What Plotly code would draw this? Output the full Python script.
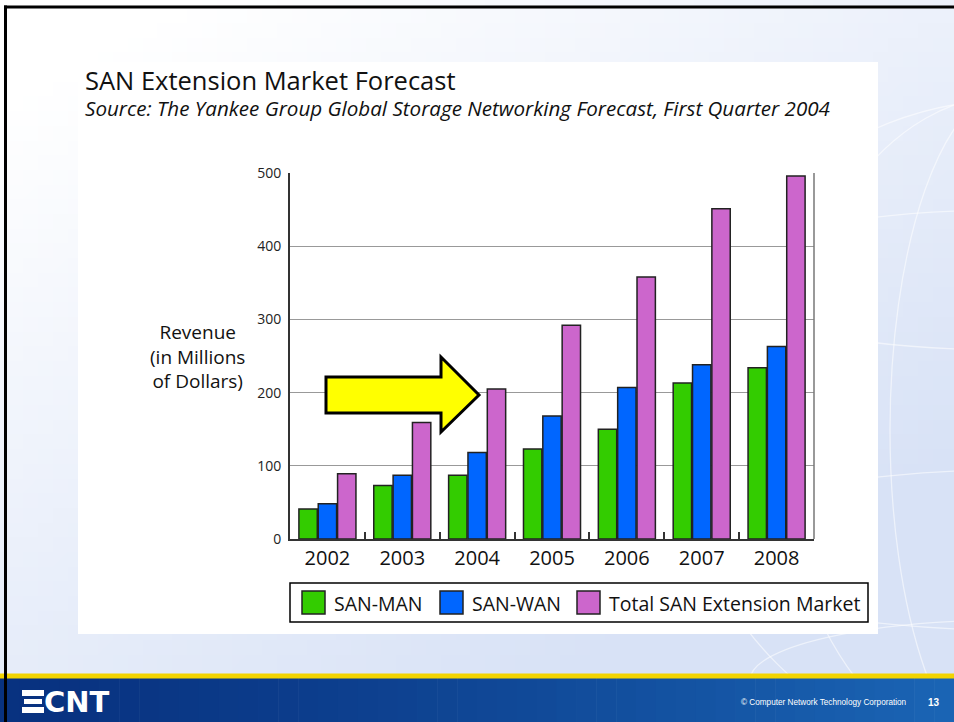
import zlib, struct, base64
import plotly.graph_objects as go

# ---------------- data ----------------
years = ['2002', '2003', '2004', '2005', '2006', '2007', '2008']
san_man = [41, 73, 87, 123, 150, 213, 234]
san_wan = [48, 87, 118, 168, 207, 238, 263]
total_market = [89, 159, 205, 292, 358, 451, 496]
series_names = ['SAN-MAN', 'SAN-WAN', 'Total SAN Extension Market']
series_colors = ['#33cc00', '#0066ff', '#cc66cc']
y_ticks = [0, 100, 200, 300, 400, 500]

title_text = 'SAN Extension Market Forecast'
subtitle_text = 'Source: The Yankee Group Global Storage Networking Forecast, First Quarter 2004'
ylabel_text = 'Revenue<br>(in Millions<br>of Dollars)'
footer_text = '© Computer Network Technology Corporation'
page_no = '13'

# ---------------- geometry helpers ----------------
W, H = 954, 722
PL, PR, PT, PB = 290, 814, 173, 539   # plot area in pixels


def px(x):
    return (x - PL) / (PR - PL)


def py(y):
    return (PB - y) / (PB - PT)


def png_uri(w, h, fn):
    rows = []
    for yy in range(h):
        row = bytearray(b'\x00')
        for xx in range(w):
            row.extend(fn(xx, yy))
        rows.append(bytes(row))
    raw = b''.join(rows)

    def chunk(t, d):
        c = struct.pack('>I', len(d)) + t + d
        return c + struct.pack('>I', zlib.crc32(t + d) & 0xffffffff)
    png = (b'\x89PNG\r\n\x1a\n'
           + chunk(b'IHDR', struct.pack('>IIBBBBB', w, h, 8, 2, 0, 0, 0))
           + chunk(b'IDAT', zlib.compress(raw, 9))
           + chunk(b'IEND', b''))
    return 'data:image/png;base64,' + base64.b64encode(png).decode()


def lerp(c0, c1, t):
    t = max(0.0, min(1.0, t))
    return tuple(int(round(a + (b - a) * t)) for a, b in zip(c0, c1))


BGW, BGH = 64, 46


def bg_fn(x, y):
    u, v = x / (BGW - 1), y / (BGH - 1)
    return lerp((255, 255, 255), (216, 226, 246), 0.6 * u + 0.75 * v - 0.12)


bg_img = png_uri(BGW, BGH, bg_fn)

fig = go.Figure()
for name, vals, col in zip(series_names, [san_man, san_wan, total_market], series_colors):
    fig.add_trace(go.Bar(
        x=years, y=vals, name=name,
        marker=dict(color=col, line=dict(color='#222222', width=1.5)),
        showlegend=False,
    ))

images = [
    dict(source=bg_img, xref='paper', yref='paper', x=px(0), y=py(0),
         sizex=px(W) - px(0), sizey=py(0) - py(676), xanchor='left', yanchor='top',
         sizing='stretch', layer='below'),
]

shapes = []
# globe lines on the background
gl = dict(color='rgba(255,255,255,0.55)', width=1.3)
cx, cy = 1010, 430
for rx, ry in [(330, 330), (230, 335), (120, 340)]:
    shapes.append(dict(type='circle', xref='paper', yref='paper',
                       x0=px(cx - rx), x1=px(cx + rx), y0=py(cy + ry), y1=py(cy - ry),
                       line=gl, layer='below'))
for oy, rx, ry in [(-150, 300, 70), (120, 320, 80), (250, 260, 60)]:
    shapes.append(dict(type='circle', xref='paper', yref='paper',
                       x0=px(cx - rx), x1=px(cx + rx), y0=py(cy + oy + ry), y1=py(cy + oy - ry),
                       line=gl, layer='below'))
# white chart panel
shapes.append(dict(type='rect', xref='paper', yref='paper', x0=px(78), x1=px(878),
                   y0=py(634), y1=py(62), fillcolor='white', line=dict(width=0), layer='below'))
# footer band (gradient strips)
NSTRIP = 48
for i in range(NSTRIP):
    u = i / (NSTRIP - 1)
    c = lerp((8, 50, 128), (26, 100, 180), u ** 1.3)
    x0 = W * i / NSTRIP
    x1 = W * (i + 1) / NSTRIP + 0.6
    shapes.append(dict(type='rect', xref='paper', yref='paper', x0=px(x0), x1=px(x1),
                       y0=py(H), y1=py(678), fillcolor='rgb(%d,%d,%d)' % c,
                       line=dict(width=0), layer='below'))
# footer yellow line
shapes.append(dict(type='rect', xref='paper', yref='paper', x0=px(0), x1=px(W),
                   y0=py(678.5), y1=py(673.5), fillcolor='#f2d400', line=dict(width=0), layer='below'))
# slide border lines
shapes.append(dict(type='line', xref='paper', yref='paper', x0=px(4), x1=px(W),
                   y0=py(7), y1=py(7), line=dict(color='black', width=3), layer='below'))
shapes.append(dict(type='line', xref='paper', yref='paper', x0=px(5.5), x1=px(5.5),
                   y0=py(5.5), y1=py(H), line=dict(color='black', width=3), layer='below'))
# logo stripes
for (y0, y1, x0, x1) in [(690, 696, 22, 44), (699, 704, 24, 42), (707, 713, 22, 44)]:
    shapes.append(dict(type='rect', xref='paper', yref='paper', x0=px(x0), x1=px(x1),
                       y0=py(y1), y1=py(y0), fillcolor='white', line=dict(width=0), layer='above'))
# right frame line of the plot
shapes.append(dict(type='line', xref='paper', yref='paper', x0=1, x1=1, y0=0, y1=1,
                   line=dict(color='#777777', width=1.5), layer='above'))
# legend box and swatches
shapes.append(dict(type='rect', xref='paper', yref='paper', x0=px(290), x1=px(868),
                   y0=py(622), y1=py(583), fillcolor='white',
                   line=dict(color='black', width=1.5), layer='above'))
legend_x = [302, 440, 577]
for lx, col in zip(legend_x, series_colors):
    shapes.append(dict(type='rect', xref='paper', yref='paper', x0=px(lx), x1=px(lx + 23),
                       y0=py(614), y1=py(591), fillcolor=col,
                       line=dict(color='#222222', width=1.5), layer='above'))

# arrow
pts = [(326, 377), (441, 377), (441, 357), (479, 395), (441, 432), (441, 413), (326, 413)]
path = 'M ' + ' L '.join(f'{px(a):.5f},{py(b):.5f}' for a, b in pts) + ' Z'
shapes.append(dict(type='path', xref='paper', yref='paper', path=path,
                   fillcolor='#ffff00', line=dict(color='black', width=3), layer='above'))

FONT = 'Open Sans'
annotations = [
    dict(text=title_text, xref='paper', yref='paper', x=px(83), y=py(80),
         xanchor='left', yanchor='middle', showarrow=False,
         font=dict(family=FONT, size=25.5, color='#111111', weight=500)),
    dict(text='<i>' + subtitle_text + '</i>', xref='paper', yref='paper', x=px(83), y=py(108),
         xanchor='left', yanchor='middle', showarrow=False,
         font=dict(family=FONT, size=20.6, color='#111111')),
    dict(text=ylabel_text, xref='paper', yref='paper', x=px(197), y=py(356),
         xanchor='center', yanchor='middle', showarrow=False, align='center',
         font=dict(family=FONT, size=19, color='#111111', weight=500)),
    dict(text='<b>CNT</b>', xref='paper', yref='paper', x=px(42), y=py(702),
         xanchor='left', yanchor='middle', showarrow=False,
         font=dict(family='DejaVu Sans', size=29, color='white')),
    dict(text=footer_text, xref='paper', yref='paper', x=px(909), y=py(702),
         xanchor='right', yanchor='middle', showarrow=False,
         font=dict(family='Liberation Sans', size=8.2, color='white')),
    dict(text='<b>' + page_no + '</b>', xref='paper', yref='paper', x=px(926), y=py(702),
         xanchor='left', yanchor='middle', showarrow=False,
         font=dict(family='Liberation Sans', size=10, color='white')),
]
for lx, name in zip(legend_x, series_names):
    annotations.append(dict(text=name, xref='paper', yref='paper', x=px(lx + 30), y=py(603),
                            xanchor='left', yanchor='middle', showarrow=False,
                            font=dict(family=FONT, size=19.5, color='#111111')))

fig.update_layout(
    width=W, height=H,
    margin=dict(l=PL, r=W - PR, t=PT, b=H - PB, pad=0),
    paper_bgcolor='white', plot_bgcolor='white',
    barmode='group', bargap=0.225, bargroupgap=0.05,
    images=images, shapes=shapes, annotations=annotations,
    showlegend=False,
    xaxis=dict(type='category', categoryorder='array', categoryarray=years,
               showline=True, linecolor='#333333', linewidth=2,
               ticks='inside', tickson='boundaries', ticklen=7, tickwidth=1.5, tickcolor='#333333',
               showgrid=False, tickfont=dict(family=FONT, size=20, color='#111111'),
               fixedrange=True),
    yaxis=dict(range=[0, 500], tickvals=y_ticks, showline=True, linecolor='#333333', linewidth=2,
               showgrid=True, gridcolor='#999999', gridwidth=1, zeroline=False, ticks='',
               tickfont=dict(family=FONT, size=14, color='#222222'), ticklabelstandoff=4,
               fixedrange=True),
)

fig.write_html('out.html', config={'displayModeBar': False},
               post_script="document.body.style.margin='0';document.body.style.overflow='hidden';")
